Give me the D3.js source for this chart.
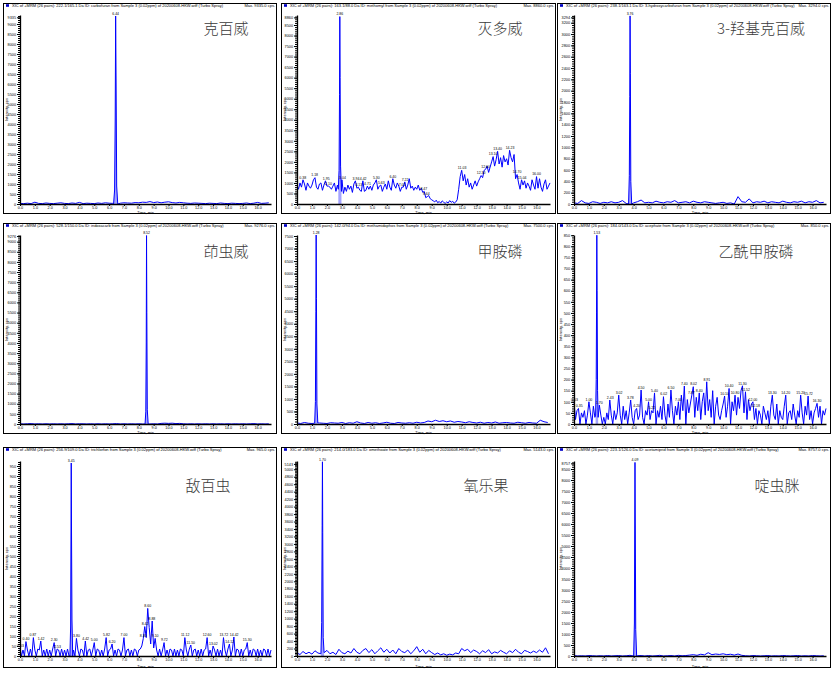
<!DOCTYPE html>
<html><head><meta charset="utf-8">
<script src="https://cdn.jsdelivr.net/npm/d3@7"></script>
<style>body{margin:0;background:#fff} svg{display:block;font-family:"Liberation Sans",Arial,sans-serif}</style>
</head><body><svg id="c" width="838" height="673"></svg>
<script>
// ---------------- DATA ----------------
const compoundNames = ["克百威","灭多威","3-羟基克百威","茚虫威","甲胺磷","乙酰甲胺磷","敌百虫","氧乐果","啶虫脒"];
const headerTexts = [
 "XIC of +MRM (26 pairs): 222.1/165.1 Da ID: carbofuran from Sample 3 (0.02ppm) of 20200608-HKW.wiff (Turbo Spray)",
 "XIC of +MRM (26 pairs): 163.1/88.0 Da ID: methomyl from Sample 3 (0.02ppm) of 20200608-HKW.wiff (Turbo Spray)",
 "XIC of +MRM (26 pairs): 238.1/163.1 Da ID: 3-hydroxycarbofuran from Sample 3 (0.02ppm) of 20200608-HKW.wiff (Turbo Spray)",
 "XIC of +MRM (26 pairs): 528.1/150.0 Da ID: indoxacarb from Sample 3 (0.02ppm) of 20200608-HKW.wiff (Turbo Spray)",
 "XIC of +MRM (26 pairs): 142.0/94.0 Da ID: methamidophos from Sample 3 (0.02ppm) of 20200608-HKW.wiff (Turbo Spray)",
 "XIC of +MRM (26 pairs): 184.0/143.0 Da ID: acephate from Sample 3 (0.02ppm) of 20200608-HKW.wiff (Turbo Spray)",
 "XIC of +MRM (26 pairs): 256.9/109.0 Da ID: trichlorfon from Sample 3 (0.02ppm) of 20200608-HKW.wiff (Turbo Spray)",
 "XIC of +MRM (26 pairs): 214.0/183.0 Da ID: omethoate from Sample 3 (0.02ppm) of 20200608-HKW.wiff (Turbo Spray)",
 "XIC of +MRM (26 pairs): 223.1/126.0 Da ID: acetamiprid from Sample 3 (0.02ppm) of 20200608-HKW.wiff (Turbo Spray)"
];
const maxTexts = ["Max. 9335.0 cps.","Max. 8860.0 cps.","Max. 3294.0 cps.","Max. 9276.0 cps.","Max. 7500.0 cps.","Max. 850.0 cps.","Max. 965.0 cps.","Max. 5143.0 cps.","Max. 8757.0 cps."];
const xTickValues = [0,1,2,3,4,5,6,7,8,9,10,11,12,13,14,15,16];
const xDomainMax = 16.9;
const yTickSteps = [500,500,200,500,500,50,50,200,500];
const yDomainTops = [9450,8975,3336,9328,7540,851,975,5221,8864];
const yTopLabels = [9335,8860,3294,9276,7500,850,950,5143,8757];
const sampleSteps = [0.25,0.1,0.25,0.25,0.25,0.1,0.1,0.2,0.25];

// baseline readings (cps), one value per sample step from t = 0
const carbofuranNoise = [30,20,40,20,90,30,20,50,30,20, 40,60,30,20,50,30,80,20,40,30, 20,50,30,60,40,30,20,40,60,50, 40,70,60,90,80,120,70,100,60,90, 110,70,50,80,60,40,30,50,40,30, 20,40,30,20,50,30,20,40,30,20, 30,50,20,40,80,30,40,60];
const methomylNoise = [
 900,700,1000,800,1150,950,650,1000,850,750,
 900,1150,1250,800,700,950,1000,650,900,1100,
 850,850,800,700,850,1000,600,900,1000,700,
 1150,500,800,600,900,700,850,550,950,1100,
 750,800,650,600,1100,600,650,850,700,850,
 650,900,1000,1150,700,850,900,600,800,950,
 700,1100,800,650,1200,900,750,1000,850,600,
 800,800,1050,700,900,1200,750,850,650,800,
 700,900,650,750,550,600,300,350,400,250,
 200,150,100,180,60,120,40,150,80,30,
 100,50,160,80,130,40,90,200,700,1300,
 1600,1100,1400,900,1200,800,1000,700,900,1100,
 850,1050,1200,1350,1250,1600,1650,1800,1500,1750,
 2000,2250,1800,2100,2500,1900,2200,1750,2300,2000,
 2150,1850,2550,2200,2000,2350,1200,1400,1000,700,
 1150,900,1100,750,1000,850,650,1150,900,700,
 1300,750,1200,800,600,950,1150,700,850,1000];
const hydroxyNoise = [20,10,60,20,10,40,30,10,30,20, 40,20,30,60,10,30,20,40,70,20, 30,20,50,30,20,40,30,60,20,30, 40,20,50,30,20,40,30,20,10,20, 30,10,20,0,130,40,30,90,20,40, 30,50,20,40,30,20,50,30,20,40, 30,50,20,40,30,60,20,30];
const indoxacarbNoise = [10,0,10,20,0,10,0,10,0,10, 0,10,0,10,20,0,10,10,0,10, 0,10,0,10,0,10,20,0,10,0, 10,0,10,0,10,0,10,0,30,40, 30,40,20,30,10,0,10,0,10,0, 10,0,10,0,10,0,10,0,10,0, 10,0,10,20,0,10,0,10];
const methamidophosNoise = [40,20,60,30,20,80,40,30,20,50, 40,30,60,20,50,30,90,40,20,60, 30,50,20,40,70,30,20,60,40,30, 50,30,70,40,60,120,90,150,100,130, 90,120,70,100,80,50,90,60,40,70, 30,60,40,80,30,50,60,40,30,70, 50,30,60,40,30,150,90,60];
const acephateNoise = [
 100,20,60,70,0,50,30,60,0,40,
 100,50,0,80,30,60,20,85,40,0,
 30,0,50,20,108,40,0,60,20,50,
 130,40,0,80,20,60,0,50,108,30,
 0,60,70,20,40,153,30,0,60,40,
 100,20,60,50,140,0,60,30,80,20,
 123,40,0,90,30,153,60,0,80,40,
 100,20,130,60,171,0,110,50,90,130,
 168,30,120,60,140,20,100,140,40,190,
 60,110,30,150,0,80,120,40,20,60,
 90,126,30,80,160,0,100,60,130,40,
 120,70,150,172,50,145,20,110,60,90,
 100,20,70,0,60,40,0,80,50,20,
 60,0,80,130,40,20,90,0,60,30,
 20,80,130,0,50,60,20,90,40,0,
 60,30,130,50,0,80,40,126,20,60,
 0,50,70,93,30,80,0,60,40,70];
const trichlorfonNoise = [
 40,0,30,0,72,30,0,35,0,92,
 30,0,35,30,75,0,30,0,35,0,
 30,0,35,67,0,35,30,0,35,0,
 30,0,35,0,30,0,30,0,88,30,
 0,35,30,0,75,0,30,35,0,30,
 67,0,35,30,0,30,0,35,92,0,
 30,35,60,0,30,0,35,30,0,30,
 92,0,30,35,0,30,0,35,30,0,
 30,35,50,87,147,92,238,142,60,175,
 40,88,30,0,35,0,30,67,0,30,
 0,35,30,0,35,0,30,0,35,30,
 0,92,30,0,35,55,0,30,35,0,
 30,0,35,0,30,35,92,0,30,0,
 50,30,0,35,0,30,0,92,30,0,
 35,60,0,30,95,0,35,30,0,35,
 0,30,35,67,0,30,0,35,30,0,
 35,0,30,0,35,30,0,35,0,30];
const omethoateNoise = [80,40,120,60,100,50,140,80,60,90, 150,60,100,40,180,90,60,130,80,200, 100,60,150,200,90,170,60,140,220,100, 180,80,160,60,200,120,90,160,60,140, 250,100,180,60,150,90,40,80,30,60, 20,50,30,80,60,200,140,180,90,160, 120,60,140,90,170,60,110,80,150,100, 60,140,90,180,100,60,150,120,80,130, 90,160,100,220,60];
const acetamipridNoise = [20,0,10,0,20,10,0,10,0,20, 0,10,20,0,10,30,0,10,20,0, 20,0,10,30,0,10,20,0,30,10, 20,40,60,30,80,50,150,60,90,70, 100,60,80,40,90,30,10,0,20,10, 0,10,20,0,10,0,20,10,0,10, 20,0,10,0,20,10,0,10];

// main peak readings (time in min, intensity in cps)
const carbofuranPeakT = [6.30,6.37,6.41,6.44,6.47,6.51,6.58], carbofuranPeakV = [0,700,4200,9400,6100,900,0];
const methomylPeakT = [2.76,2.81,2.84,2.86,2.88,2.91,2.97], methomylPeakV = [700,1600,5200,8900,6000,1800,600];
const hydroxyPeakT = [3.66,3.71,3.74,3.76,3.78,3.81,3.87], hydroxyPeakV = [0,500,1900,3320,2300,400,0];
const indoxacarbPeakT = [8.42,8.47,8.50,8.52,8.54,8.57,8.63], indoxacarbPeakV = [0,600,4000,9300,5500,700,0];
const methamidophosPeakT = [1.18,1.23,1.26,1.28,1.30,1.33,1.39], methamidophosPeakV = [30,900,4500,7540,5000,800,40];
const acephatePeakT = [1.45,1.49,1.51,1.53,1.55,1.58,1.62], acephatePeakV = [40,200,500,850,600,150,30];
const trichlorfonPeakT = [3.36,3.41,3.43,3.45,3.47,3.50,3.55], trichlorfonPeakV = [0,150,550,965,600,180,0];
const omethoatePeakT = [1.60,1.65,1.68,1.70,1.72,1.75,1.81], omethoatePeakV = [60,900,3500,5200,3300,500,90];
const acetamipridPeakT = [4.00,4.05,4.07,4.09,4.11,4.14,4.20], acetamipridPeakV = [0,1500,5500,8800,6000,1200,0];

// retention-time labels (min)
const methomylLabels = [0.38,1.18,1.95,2.10,2.86,3.04,3.94,4.13,4.42,4.71,5.30,5.63,6.40,7.02,7.22,8.47,8.64,11.03,12.30,12.60,13.10,13.40,14.23,14.70,15.04,16.00];
const acephateLabels = [0.03,0.35,1.00,1.53,1.70,2.43,3.02,3.78,4.20,4.50,5.00,5.22,5.40,6.02,6.50,7.00,7.40,7.87,8.02,8.40,8.91,10.10,10.40,10.80,11.30,11.52,12.00,12.18,13.30,14.20,15.20,15.72,16.30];
const trichlorfonLabels = [0.03,0.40,0.87,1.42,2.30,2.53,3.45,3.80,4.42,5.00,5.82,6.20,7.00,8.30,8.42,8.60,8.88,9.10,9.72,11.12,11.50,12.60,13.02,13.72,14.12,14.42,15.30];

// ---------------- LAYOUT ----------------
const noises = [carbofuranNoise,methomylNoise,hydroxyNoise,indoxacarbNoise,methamidophosNoise,acephateNoise,trichlorfonNoise,omethoateNoise,acetamipridNoise];
const peakTs = [carbofuranPeakT,methomylPeakT,hydroxyPeakT,indoxacarbPeakT,methamidophosPeakT,acephatePeakT,trichlorfonPeakT,omethoatePeakT,acetamipridPeakT];
const peakVs = [carbofuranPeakV,methomylPeakV,hydroxyPeakV,indoxacarbPeakV,methamidophosPeakV,acephatePeakV,trichlorfonPeakV,omethoatePeakV,acetamipridPeakV];
const labelSets = [[6.44],methomylLabels,[3.76],[8.52],[1.28],acephateLabels,trichlorfonLabels,[1.70],[4.09]];

const cols = [{bx0:3,bx1:276,px0:20,px1:271},{bx0:281,bx1:555,px0:297,px1:550},{bx0:557,bx1:830,px0:574,px1:826}];
const rows = [{by0:3,by1:213,py0:15,py1:204},{by0:223,by1:433,py0:235,py1:424},{by0:447,by1:667,py0:461,py1:656}];
const namePos = [[226,27],[500,27],[761,27],[226,250],[500,250],[756,250],[208,484],[486,484],[777,484]];

const svg = d3.select("#c");
svg.append("rect").attr("width",838).attr("height",673).attr("fill","#fff");

compoundNames.forEach((name,i)=>{
  const c = cols[i%3], r = rows[Math.floor(i/3)];
  const g = svg.append("g");
  g.append("rect").attr("x",c.bx0+0.5).attr("y",r.by0+0.5).attr("width",c.bx1-c.bx0).attr("height",r.by1-r.by0)
    .attr("fill","none").attr("stroke","#000").attr("stroke-width",1);

  const x = d3.scaleLinear().domain([0,xDomainMax]).range([c.px0,c.px1]);
  const y = d3.scaleLinear().domain([0,yDomainTops[i]]).range([r.py1,r.py0]);

  const pt = peakTs[i], pv = peakVs[i], dt = sampleSteps[i];
  const lo = pt[0], hi = pt[pt.length-1];
  const pts = noises[i].map((v,k)=>({t:+(k*dt).toFixed(3), v})).filter(d=>d.t<lo||d.t>hi);
  const peakPts = pt.map((t,k)=>({t, v:pv[k]}));
  peakPts.forEach(d=>pts.push(d));
  pts.sort((a,b)=>a.t-b.t);

  // integrated peak fill
  g.append("path").datum(peakPts)
    .attr("d", d3.area().x(d=>x(d.t)).y0(y(0)).y1(d=>y(d.v)))
    .attr("fill","#a4a4ff");
  // trace
  g.append("path").datum(pts)
    .attr("d", d3.line().x(d=>x(d.t)).y(d=>y(d.v)))
    .attr("fill","none").attr("stroke","#0000ff").attr("stroke-width",1).attr("stroke-linejoin","miter");

  // axes
  const step = yTickSteps[i];
  const yt = d3.range(0, yTopLabels[i]+0.001, step);
  if (Math.abs(yt[yt.length-1]-yTopLabels[i])>0.5) yt.push(yTopLabels[i]);
  const minor = d3.range(0, yDomainTops[i], step/5);
  const yMinor = g.append("g").attr("transform",`translate(${c.px0},0)`)
    .call(d3.axisLeft(y).tickValues(minor).tickSize(2).tickFormat(""));
  yMinor.select(".domain").remove();
  const yAx = g.append("g").attr("transform",`translate(${c.px0},0)`)
    .call(d3.axisLeft(y).tickValues(yt).tickSize(3).tickSizeOuter(0).tickPadding(1).tickFormat(d3.format("d")));
  const xAx = g.append("g").attr("transform",`translate(0,${r.py1})`)
    .call(d3.axisBottom(x).tickValues(xTickValues).tickSize(2).tickSizeOuter(0).tickPadding(0.5).tickFormat(d3.format(".1f")));
  [yAx,xAx,yMinor].forEach(a=>{a.selectAll("text").attr("font-size",3.8).attr("fill","#000").attr("font-family","Liberation Sans, Arial");
    a.selectAll("line,path").attr("stroke","#000");});
  xAx.select(".domain").attr("stroke-width",1.3);
  yAx.select(".domain").attr("stroke-width",1.3);

  // header
  g.append("rect").attr("x",c.bx0+3).attr("y",r.by0+1.2).attr("width",3).attr("height",2.6).attr("fill","#0000c8");
  g.append("text").attr("x",c.bx0+9).attr("y",r.by0+4.2).attr("font-size",4).text(headerTexts[i]);
  g.append("text").attr("x",c.bx1-1).attr("y",r.by0+4.2).attr("font-size",4).attr("text-anchor","end").text(maxTexts[i]);
  // axis titles
  g.append("text").attr("transform",`translate(${c.bx0+4.5},${(r.py0+r.py1)/2}) rotate(-90)`)
    .attr("font-size",4).attr("text-anchor","middle").text("Intensity, cps");
  g.append("text").attr("x",(c.px0+c.px1)/2).attr("y",r.by1+0.6).attr("font-size",3.8).attr("text-anchor","middle").text("Time, min");

  // retention time labels
  labelSets[i].forEach(t=>{
    const near = pts.filter(d=>Math.abs(d.t-t)<=0.065);
    const v = d3.max(near, d=>d.v) ?? 0;
    g.append("text").attr("x",x(t)).attr("y",y(v)-1.2).attr("font-size",3.5).attr("text-anchor","middle").text(t.toFixed(2));
  });

  // compound name
  g.append("text").attr("x",namePos[i][0]).attr("y",namePos[i][1]).attr("dominant-baseline","central")
    .attr("text-anchor","middle").attr("font-size",15).attr("fill","#3a3a3a")
    .attr("font-family","'Noto Sans CJK SC', sans-serif").attr("font-weight",300).text(name);
});
</script>
</body></html>
